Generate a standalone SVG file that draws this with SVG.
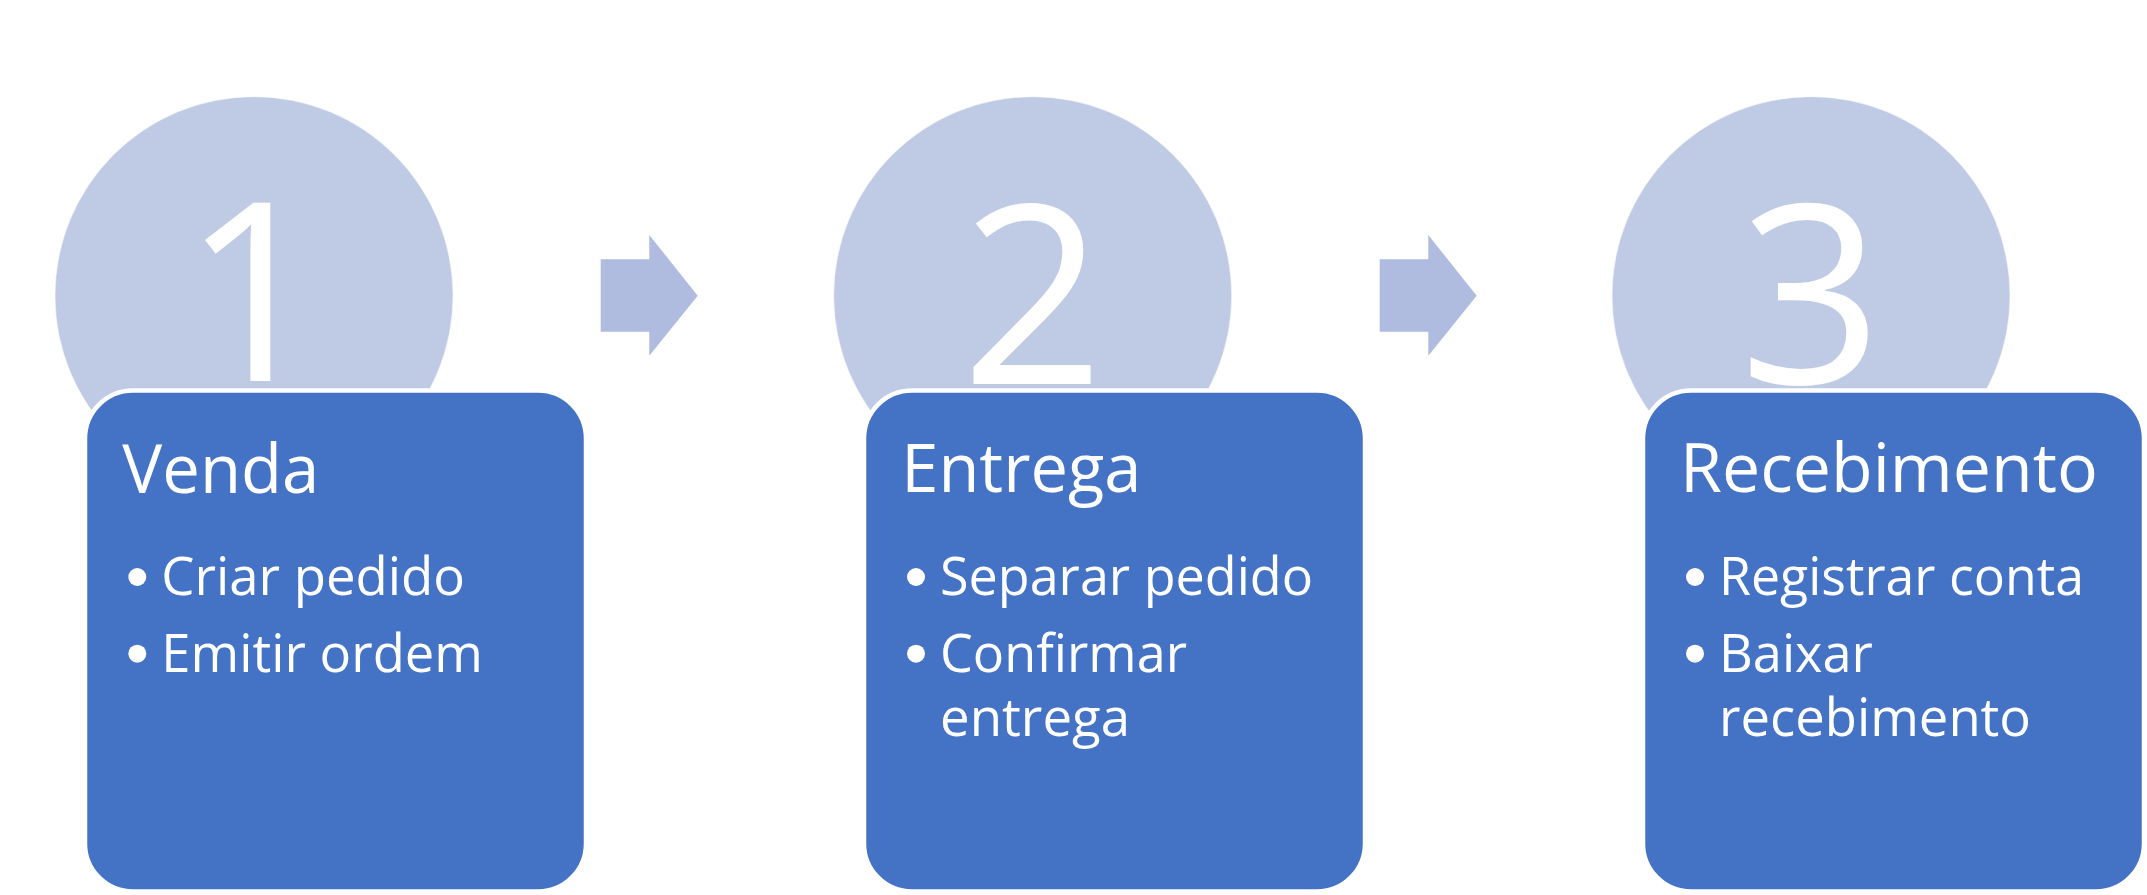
<svg xmlns="http://www.w3.org/2000/svg" width="2147" height="895" viewBox="0 0 2147 895">
<style>
.bg{fill:#ffffff}
.circ{fill:#BFCAE4;stroke:#ffffff;stroke-opacity:0.5;stroke-width:1}
.num{font-family:"Open Sans","Noto Sans","DejaVu Sans",sans-serif;font-size:250px;fill:#ffffff;text-anchor:middle}
.box{fill:#4472C4;stroke:#ffffff;stroke-width:4.5}
.title{font-family:"Open Sans","Noto Sans","DejaVu Sans",sans-serif;font-size:68.5px;fill:#ffffff}
.item{font-family:"Open Sans","Noto Sans","DejaVu Sans",sans-serif;font-size:53px;fill:#ffffff}
.dot{fill:#ffffff}
.arrow{fill:#AFBCDF}
</style>
<rect class="bg" x="0" y="0" width="2147" height="895"/>
<g id="connectors">
  <polygon class="arrow" points="600.7,259.3 649.3,259.3 649.3,235 697.7,295.7 649.3,355.7 649.3,331.7 600.7,331.7"/>
  <polygon class="arrow" points="1379.7,259.3 1428.3,259.3 1428.3,235 1476.7,295.7 1428.3,355.7 1428.3,331.7 1379.7,331.7"/>
</g>
<g id="node1">
  <circle class="circ" cx="254" cy="295.7" r="199"/>
  <text class="num" x="254" y="381">1</text>
  <rect class="box" x="85" y="390.5" width="501" height="501" rx="48" ry="48"/>
  <text class="title" x="122.3" y="493" textLength="197" lengthAdjust="spacingAndGlyphs">Venda</text>
  <circle class="dot" cx="137.3" cy="577" r="9"/>
  <text class="item" x="161.3" y="595" textLength="303.7" lengthAdjust="spacingAndGlyphs">Criar pedido</text>
  <circle class="dot" cx="137.3" cy="653.7" r="9"/>
  <text class="item" x="161.3" y="671.7" textLength="321.7" lengthAdjust="spacingAndGlyphs">Emitir ordem</text>
</g>
<g id="node2">
  <circle class="circ" cx="1032.7" cy="295.7" r="199"/>
  <text class="num" x="1032.7" y="384">2</text>
  <rect class="box" x="864" y="390.5" width="501" height="501" rx="48" ry="48"/>
  <text class="title" x="901.3" y="492.3" textLength="240" lengthAdjust="spacingAndGlyphs">Entrega</text>
  <circle class="dot" cx="916" cy="577" r="9"/>
  <text class="item" x="940" y="595" textLength="373" lengthAdjust="spacingAndGlyphs">Separar pedido</text>
  <circle class="dot" cx="916" cy="653.7" r="9"/>
  <text class="item" x="940" y="671.7" textLength="247" lengthAdjust="spacingAndGlyphs">Confirmar</text>
  <text class="item" x="940" y="736" textLength="190" lengthAdjust="spacingAndGlyphs">entrega</text>
</g>
<g id="node3">
  <circle class="circ" cx="1811" cy="295.7" r="199"/>
  <text class="num" x="1811" y="384">3</text>
  <rect class="box" x="1643" y="390.5" width="501" height="501" rx="48" ry="48"/>
  <text class="title" x="1680" y="492.3" textLength="418" lengthAdjust="spacingAndGlyphs">Recebimento</text>
  <circle class="dot" cx="1695" cy="577" r="9"/>
  <text class="item" x="1719" y="595" textLength="365" lengthAdjust="spacingAndGlyphs">Registrar conta</text>
  <circle class="dot" cx="1695" cy="653.7" r="9"/>
  <text class="item" x="1719" y="671.7" textLength="154" lengthAdjust="spacingAndGlyphs">Baixar</text>
  <text class="item" x="1719" y="736" textLength="312" lengthAdjust="spacingAndGlyphs">recebimento</text>
</g>
</svg>
